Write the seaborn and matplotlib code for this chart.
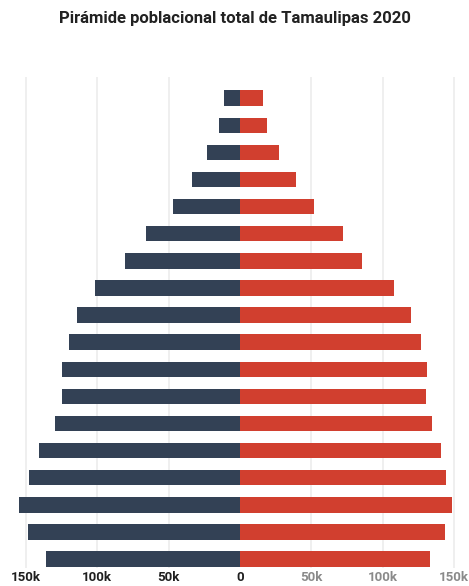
import matplotlib
matplotlib.use("Agg")
import matplotlib.pyplot as plt
import seaborn as sns
import pandas as pd
import numpy as np

# grupos de edad, de arriba (mayores) hacia abajo
grupos = ["85+", "80-84", "75-79", "70-74", "65-69", "60-64", "55-59", "50-54",
          "45-49", "40-44", "35-39", "30-34", "25-29", "20-24", "15-19",
          "10-14", "5-9", "0-4"]

# miles de personas
hombres = [11.4, 14.5, 23.4, 33.4, 47.0, 66.1, 80.4, 101.5, 114.5, 119.7,
           124.6, 124.6, 129.9, 141.2, 148.2, 155.0, 148.4, 136.3]
mujeres = [15.9, 18.9, 27.1, 39.3, 52.1, 72.2, 85.6, 108.0, 119.7, 126.9,
           130.9, 130.4, 134.9, 140.7, 144.5, 148.7, 143.8, 133.2]

ticks = [-150, -100, -50, 0, 50, 100, 150]
tick_labels = ["150k", "100k", "50k", "0", "50k", "100k", "150k"]

df = pd.concat([
    pd.DataFrame({"grupo": grupos, "poblacion": [-h for h in hombres], "sexo": "Hombres"}),
    pd.DataFrame({"grupo": grupos, "poblacion": mujeres, "sexo": "Mujeres"}),
])

sns.set_style("white")
plt.rcParams['font.family'] = ['Roboto', 'DejaVu Sans']

fig = plt.figure(figsize=(4.69, 5.86), dpi=100)
ax = fig.add_axes([0.0252, 0.0307, 0.995 - 0.0252, 0.8686 - 0.0307])

# grid vertical
for t in ticks:
    if t != 0:
        ax.axvline(t, color="#ececec", linewidth=1.2, zorder=0)

sns.barplot(data=df, y="grupo", x="poblacion", hue="sexo", order=grupos,
            orient="h", dodge=False, width=0.57, linewidth=0, saturation=1,
            palette={"Hombres": "#334155", "Mujeres": "#d13f2f"},
            legend=False, ax=ax, zorder=2)

ax.set_xlim(-160, 159)
ax.set_ylim(len(grupos) - 1 + 0.33, -0.78)
ax.set_yticks([])
ax.set_xticks(ticks)
ax.set_xticklabels(tick_labels, fontweight="bold", fontsize=9.5)
for lbl, t in zip(ax.get_xticklabels(), ticks):
    lbl.set_color("#1f1f1f" if t <= 0 else "#8a8a8a")
ax.tick_params(axis="x", length=0, pad=2)
ax.set_xlabel("")
ax.set_ylabel("")
for s in ax.spines.values():
    s.set_visible(False)

fig.text(0.5, 0.968, "Pirámide poblacional total de Tamaulipas 2020",
         ha="center", va="center", fontsize=12, fontweight="bold", color="#222222")

fig.savefig("out.png", dpi=100)
